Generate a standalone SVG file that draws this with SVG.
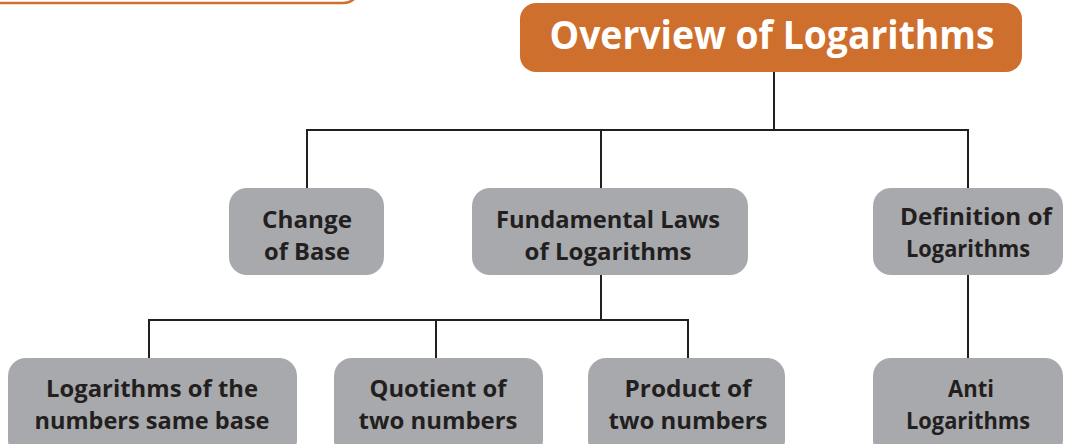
<svg xmlns="http://www.w3.org/2000/svg" width="1072" height="444" viewBox="0 0 1072 444">
<style>
.box{fill:#A7A9AC}
.lbl{font-family:"Open Sans","Liberation Sans",sans-serif;font-weight:700;font-size:24px;fill:#231F20;text-anchor:middle}
.ttl{font-family:"Open Sans","Liberation Sans",sans-serif;font-weight:700;font-size:39px;fill:#FFFFFF;text-anchor:middle}
.con{fill:none;stroke:#231F20;stroke-width:2}
</style>
<rect width="1072" height="444" fill="#FFFFFF"/>
<path d="M0,3 H343 Q353,3 358,-6" fill="none" stroke="#CF6F2D" stroke-width="2.5"/>
<g id="connectors">
<path class="con" d="M774,72 V130"/>
<path class="con" d="M307,188 V130 H968 V188"/>
<path class="con" d="M601,130 V188"/>
<path class="con" d="M601,275 V320"/>
<path class="con" d="M149,358 V320 H688 V358"/>
<path class="con" d="M436,320 V358"/>
<path class="con" d="M968,275 V358"/>
</g>
<g id="title">
<rect x="520" y="3" width="502" height="69" rx="16" fill="#CF6F2D"/>
<text class="ttl" x="772" y="49" textLength="445" lengthAdjust="spacingAndGlyphs">Overview of Logarithms</text>
</g>
<g id="change-of-base">
<rect class="box" x="229" y="188" width="155" height="87" rx="18"/>
<text class="lbl" x="307" y="228" textLength="90" lengthAdjust="spacingAndGlyphs">Change</text>
<text class="lbl" x="307" y="260" textLength="86" lengthAdjust="spacingAndGlyphs">of Base</text>
</g>
<g id="fundamental-laws">
<rect class="box" x="472" y="188" width="276" height="87" rx="18"/>
<text class="lbl" x="608" y="228" textLength="224" lengthAdjust="spacingAndGlyphs">Fundamental Laws</text>
<text class="lbl" x="608" y="260" textLength="167" lengthAdjust="spacingAndGlyphs">of Logarithms</text>
</g>
<g id="definition">
<rect class="box" x="873" y="188" width="190" height="87" rx="18"/>
<text class="lbl" x="976" y="225" textLength="152" lengthAdjust="spacingAndGlyphs">Definition of</text>
<text class="lbl" x="968" y="257" textLength="124" lengthAdjust="spacingAndGlyphs">Logarithms</text>
</g>
<g id="same-base">
<rect class="box" x="8" y="358" width="289" height="100" rx="18"/>
<text class="lbl" x="152" y="397" textLength="212" lengthAdjust="spacingAndGlyphs">Logarithms of the</text>
<text class="lbl" x="152" y="429" textLength="235" lengthAdjust="spacingAndGlyphs">numbers same base</text>
</g>
<g id="quotient">
<rect class="box" x="334" y="358" width="209" height="100" rx="18"/>
<text class="lbl" x="438" y="397" textLength="137" lengthAdjust="spacingAndGlyphs">Quotient of</text>
<text class="lbl" x="438" y="429" textLength="159" lengthAdjust="spacingAndGlyphs">two numbers</text>
</g>
<g id="product">
<rect class="box" x="588" y="358" width="197" height="100" rx="18"/>
<text class="lbl" x="688" y="397" textLength="127" lengthAdjust="spacingAndGlyphs">Product of</text>
<text class="lbl" x="688" y="429" textLength="159" lengthAdjust="spacingAndGlyphs">two numbers</text>
</g>
<g id="anti-logarithms">
<rect class="box" x="873" y="358" width="190" height="100" rx="18"/>
<text class="lbl" x="971" y="397" textLength="46" lengthAdjust="spacingAndGlyphs">Anti</text>
<text class="lbl" x="968" y="429" textLength="124" lengthAdjust="spacingAndGlyphs">Logarithms</text>
</g>
</svg>
